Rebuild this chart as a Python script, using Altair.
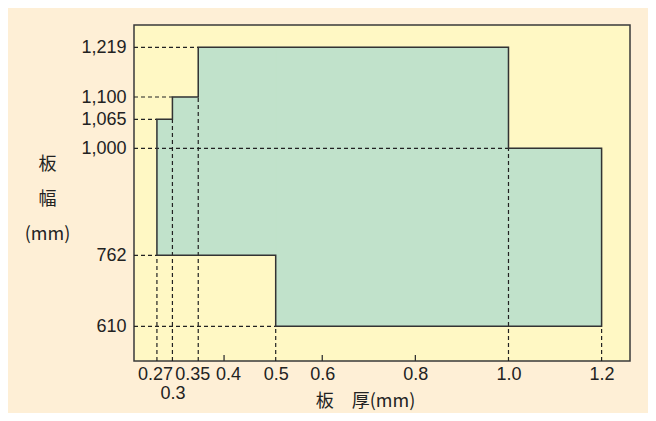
import altair as alt
import pandas as pd

# ---- data -----------------------------------------------------------------
# available region: thickness ranges (mm) with their width ranges (mm)
seg_t_min = [0.27, 0.30, 0.35, 0.50, 1.00]
seg_t_max = [0.30, 0.35, 0.50, 1.00, 1.20]
seg_w_min = [762, 762, 762, 610, 610]
seg_w_max = [1065, 1100, 1219, 1219, 1000]

# outline of the region (in drawing order)
outline_t = [0.27, 0.27, 0.30, 0.30, 0.35, 0.35, 1.00, 1.00, 1.20, 1.20, 0.50, 0.50, 0.27]
outline_w = [762, 1065, 1065, 1100, 1100, 1219, 1219, 1000, 1000, 610, 610, 762, 762]

# dashed reference lines
h_ref_w = [1219, 1100, 1065, 1000, 762, 610]
h_ref_t = [0.35, 0.30, 0.27, 1.00, 0.27, 0.50]
v_ref_t = [0.27, 0.30, 0.35, 0.50, 1.00, 1.20]
v_ref_w = [762, 1065, 1100, 610, 1000, 610]

x_ticks = [0.27, 0.3, 0.35, 0.4, 0.5, 0.6, 0.8, 1.0, 1.2]
x_tick_labels = ["0.27", "0.3", "0.35", "0.4", "0.5", "0.6", "0.8", "1.0", "1.2"]
x_minor_ticks = [0.4, 0.6, 0.8]
y_ticks = [610, 762, 1000, 1065, 1100, 1219]

x_min, x_max = 0.2256, 1.261
y_min, y_max = 533, 1270

# ---- styles ---------------------------------------------------------------
W, H = 496, 336
CREAM = "#FEEFD6"
YELLOW = "#FFF8C4"
GREEN = "#C1E2CB"
DARK = "#333333"
LATIN = "Liberation Sans"
CJK = "Noto Sans CJK JP"
TICK = 6

xs = alt.Scale(domain=[x_min, 0.5, x_max], range=[0, 141.7, W], nice=False, zero=False)
ys = alt.Scale(domain=[y_min, 610, 762, 1000, 1065, 1100, 1219, y_max],
               range=[H, 301.3, 230.3, 123.3, 94.3, 72, 22.3, 0], nice=False, zero=False)

def eq(v):
    return f"abs(datum.value - {v}) < 1e-6"

parts = []
for v, lab in zip(x_ticks, x_tick_labels):
    if lab == "0.3":
        parts.append(f"{eq(v)} ? ['', '{lab}']")
    else:
        parts.append(f"{eq(v)} ? '{lab}'")
x_label_expr = " : ".join(parts) + " : datum.label"

x_label_shift = {0.27: -2, 0.35: -6, 0.4: 4}

xaxis = alt.Axis(
    values=x_ticks, title="板　厚(mm)", domain=False, grid=False, ticks=False,
    labelExpr=x_label_expr, labelOverlap=False, labelFlush=False, labelBound=False,
    labelBaseline="alphabetic", labelPadding=18, labelLineHeight=19,
    labelFontSize=18, labelColor="#222222",
    labelFont={"condition": {"test": "datum.value < 0.45", "value": "Liberation Sans Narrow, " + LATIN},
               "value": LATIN},
    labelOffset={"condition": [{"test": eq(k), "value": v} for k, v in x_label_shift.items()],
                 "value": 0},
    titleFont=CJK, titleFontSize=18, titleFontWeight="normal", titleColor="#222222",
    titleAlign="center", titleBaseline="middle", titleX=231, titleY=40,
)
yaxis = alt.Axis(
    values=y_ticks, format=",d", title=["板", "幅", "(mm)"], domain=False, ticks=False,
    tickSize=0, grid=False, labelPadding=8, labelFontSize=18, labelFont=LATIN,
    labelColor="#222222", labelOverlap=False,
    titleAngle=0, titleFont=CJK, titleFontSize=18, titleFontWeight="normal", titleColor="#222222",
    titleAlign="center", titleBaseline="top", titleX=-87, titleY=130, titleLineHeight=35,
)

seg_df = pd.DataFrame({"x": seg_t_min, "x2": seg_t_max, "y": seg_w_min, "y2": seg_w_max})
out_df = pd.DataFrame({"x": outline_t, "y": outline_w, "o": list(range(len(outline_t)))})
ref_df = pd.DataFrame({
    "x": [x_min] * len(h_ref_w) + v_ref_t,
    "x2": h_ref_t + v_ref_t,
    "y": h_ref_w + [y_min] * len(v_ref_t),
    "y2": h_ref_w + v_ref_w,
})
tick_df = pd.DataFrame({"tx": x_minor_ticks})

X = lambda f="x": alt.X(f"{f}:Q", scale=xs, axis=xaxis)
Y = lambda f="y": alt.Y(f"{f}:Q", scale=ys, axis=yaxis)

region = alt.Chart(seg_df).mark_rect(color=GREEN, stroke=GREEN, strokeWidth=1).encode(
    x=X(), x2="x2:Q", y=Y(), y2="y2:Q")

refs = alt.Chart(ref_df).mark_rule(color="#222222", strokeWidth=1.2, strokeDash=[4, 3]).encode(
    x=X(), x2="x2:Q", y=Y(), y2="y2:Q")

outline = alt.Chart(out_df).mark_line(color=DARK, strokeWidth=1.5, strokeJoin="miter").encode(
    x=X(), y=Y(), order="o:Q")

# short inward tick marks standing on the bottom frame
minor = alt.Chart(tick_df).mark_rule(color=DARK, strokeWidth=1.3).encode(
    x=alt.X("tx:Q", scale=xs, axis=xaxis),
    y=alt.value(H - TICK), y2=alt.value(H))

chart = alt.layer(region, refs, outline, minor).properties(
    width=W, height=H,
    padding={"left": 126, "top": 17, "right": 18, "bottom": 52},
    autosize=alt.AutoSizeParams(type="none"),
    background=CREAM,
).configure_view(fill=YELLOW, stroke="#3a3a3a", strokeWidth=1.5)

chart.save("out.html", embed_options={"renderer": "svg", "actions": False})
